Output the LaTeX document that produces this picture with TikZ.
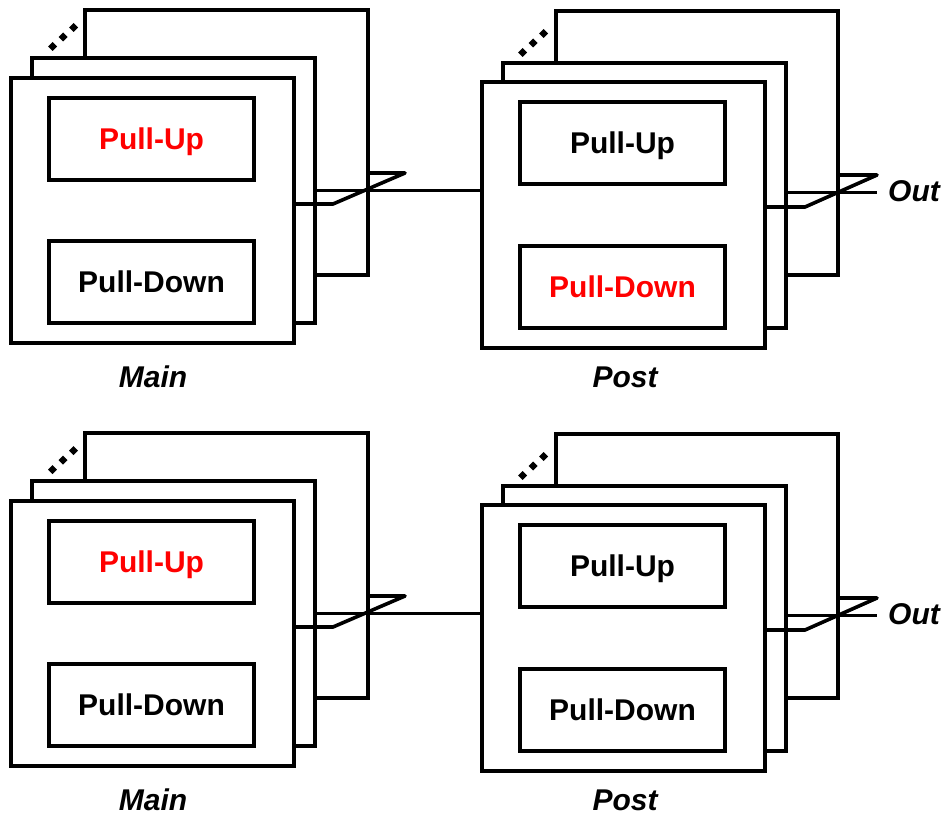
\documentclass[tikz,border=0pt]{standalone}
\usepackage{fontspec}
\setmainfont{Liberation Sans}
\begin{document}
\begin{tikzpicture}[x=1pt,y=-1pt,
  frame/.style={draw, line width=4pt, fill=white, rectangle, inner sep=0pt,
    outer sep=0pt, anchor=north west, minimum width=283pt, minimum height=265pt},
  cell/.style={draw, line width=4pt, rectangle, inner sep=0pt, outer sep=0pt,
    anchor=north west, minimum width=205pt, minimum height=82pt,
    text depth=0pt, font=\bfseries\fontsize{30}{36}\selectfont},
  caption/.style={inner sep=0pt, font=\bfseries\itshape\fontsize{30}{36}\selectfont},
  bus/.style={line width=3.6pt, line join=round},
  wire/.style={line width=3pt},
  dotmark/.style={fill=black}]
\useasboundingbox (0,0) rectangle (947,816);

\foreach \r/\dy/\pd in {t/0/red, b/423/black}{
\begin{scope}[yshift=-\dy pt]
  % Main stage: stacked copies, back to front
  \node[frame] (\r mback)   at (85,10) {};
  \node[frame] (\r msecond) at (32,58) {};
  \node[frame] (\r mfront)  at (11,78) {};
  \node[cell, text=red] (\r mup)   at (49,98)  {Pull-Up};
  \node[cell]           (\r mdown) at (49,241) {Pull-Down};
  \node[caption] (\r mlabel) at (153,377) {Main};
  \foreach \px/\py in {52.5/46.5, 63/37, 73.5/27.5}
    \fill[dotmark] (\px,\py) +(0,-4.5) -- +(4.5,0) -- +(0,4.5) -- +(-4.5,0) -- cycle;

  % Post stage
  \node[frame, minimum width=282pt, minimum height=264pt] (\r pback) at (556,11) {};
  \node[frame] (\r psecond) at (503,63) {};
  \node[frame, minimum height=266pt] (\r pfront)  at (482,82) {};
  \node[cell]            (\r pup)   at (520,102) {Pull-Up};
  \node[cell, text=\pd]  (\r pdown) at (520,246) {Pull-Down};
  \node[caption] (\r plabel) at (625,377) {Post};
  \foreach \px/\py in {522.5/52.5, 533/43, 543.5/33.5}
    \fill[dotmark] (\px,\py) +(0,-4.5) -- +(4.5,0) -- +(0,4.5) -- +(-4.5,0) -- cycle;

  % bundle from Main into Post
  \coordinate (\r mj1) at (333,204);
  \coordinate (\r mj2) at (405,173);
  \coordinate (\r mw)  at (400,190);
  \draw[bus] (\r mfront.north east |- \r mj1) -- (\r mj1) -- (\r mj2)
             -- (\r mback.north east |- \r mj2);
  \draw[wire] (\r msecond.north east |- \r mw) -- (\r pfront.north west |- \r mw);

  % bundle from Post to the output
  \coordinate (\r pj1) at (805,207);
  \coordinate (\r pj2) at (877,175);
  \coordinate (\r pout) at (877,192);
  \draw[bus] (\r pfront.north east |- \r pj1) -- (\r pj1) -- (\r pj2)
             -- (\r pback.north east |- \r pj2);
  \draw[wire] (\r psecond.north east |- \r pout) -- (\r pout);
  \node[caption, anchor=west] (\r outlabel) at (888,191) {Out};
\end{scope}
}
\end{tikzpicture}
\end{document}
